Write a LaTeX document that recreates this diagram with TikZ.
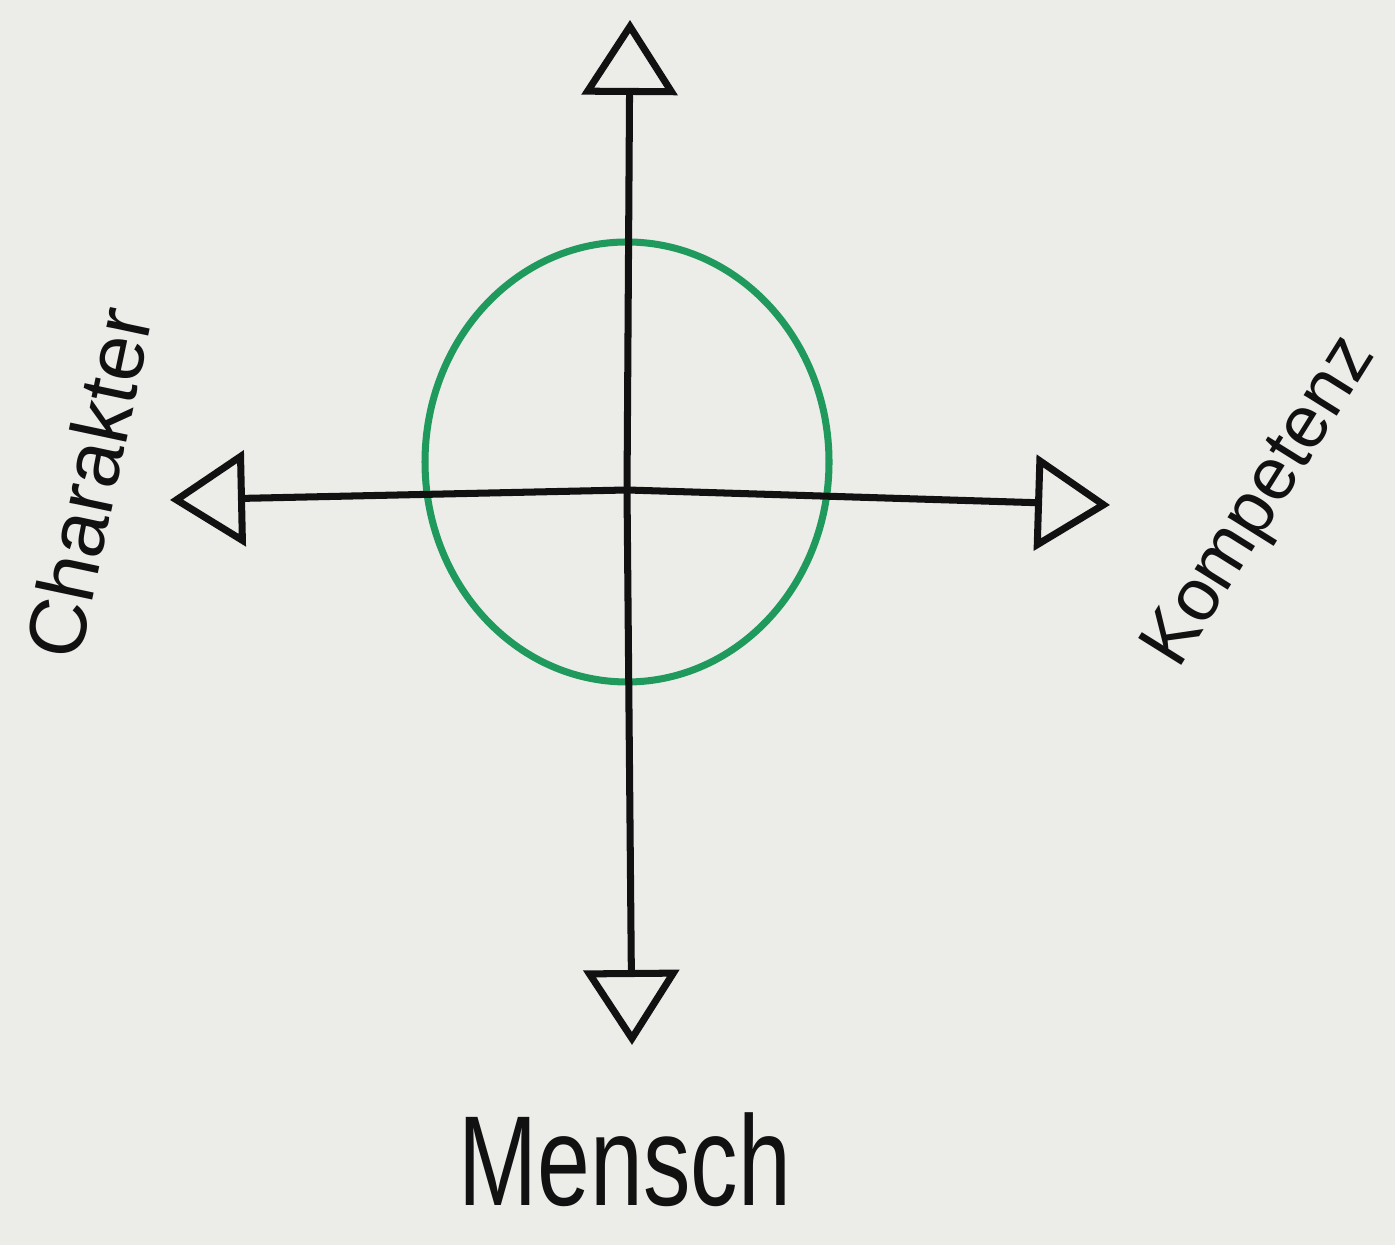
\documentclass[tikz,border=0pt]{standalone}
\usepackage{fontspec}
\setmainfont{Liberation Sans}
\usepackage{tikz}
\usetikzlibrary{arrows.meta, positioning}
\definecolor{paperGrey}{HTML}{ECECE9}
\definecolor{inkBlack}{HTML}{111111}
\definecolor{markerGreen}{HTML}{1F9A5C}

\begin{document}
\begin{tikzpicture}[
    axis/.style={-{Triangle[open, length=7.5mm, width=9.5mm, line width=2pt]}, line width=2pt, inkBlack},
    ring/.style={draw=markerGreen, line width=2pt},
    word/.style={inkBlack, inner sep=0pt}
]
  \fill[paperGrey] (0,0) rectangle (13.95,12.45);
  \useasboundingbox (0,0) rectangle (13.95,12.45);
  \coordinate (mid) at (6.27,7.55);
  \coordinate (upTip) at (6.30,12.25);
  \coordinate (downTip) at (6.32,2.00);
  \coordinate (leftTip) at (1.70,7.45);
  \coordinate (rightTip) at (11.10,7.40);
  \draw[ring] (6.27,7.83) ellipse [x radius=2.02cm, y radius=2.2cm];
  \draw[axis] (mid) -- (upTip);
  \draw[axis] (mid) -- (downTip);
  \draw[axis] (mid) -- (leftTip);
  \draw[axis] (mid) -- (rightTip);
  \node[word, rotate=78, font=\fontsize{23}{26}\selectfont] (charakter) at (0.88,7.62) {Charakter};
  \node[word, rotate=58, font=\fontsize{21}{24}\selectfont] (kompetenz) at (12.62,7.42) {Kompetenz};
  \node[word, font=\fontsize{27}{32}\selectfont, yscale=1.35] (mensch) at (6.25,0.85) {Mensch};
\end{tikzpicture}
\end{document}
